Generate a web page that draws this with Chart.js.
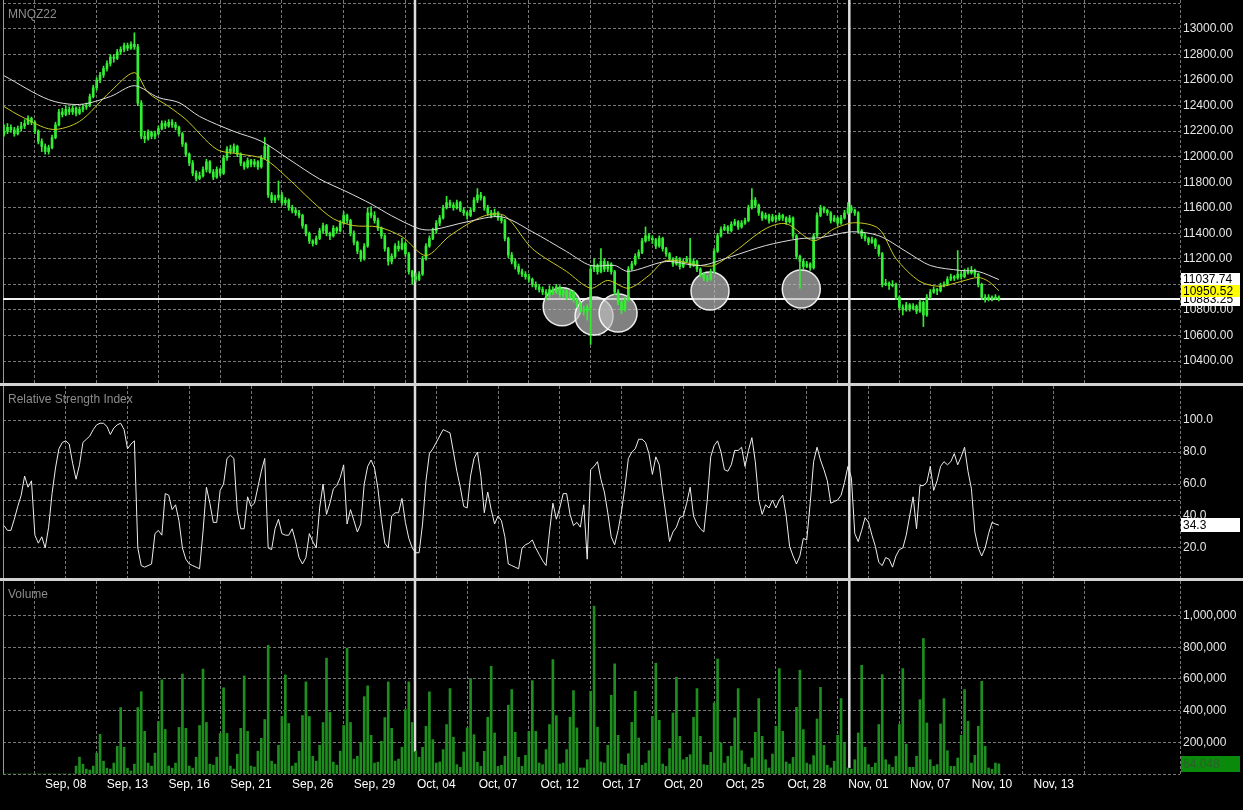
<!DOCTYPE html>
<html>
<head>
<meta charset="utf-8">
<script src="https://cdn.jsdelivr.net/npm/chart.js@4.4.0/dist/chart.umd.min.js"></script>
<style>
html, body { margin: 0; padding: 0; background: #000; width: 1243px; height: 810px; overflow: hidden; }
canvas { position: absolute; left: 0; }
.sep { position: absolute; left: 0; width: 1243px; height: 3px; background: #d2d2d2; }
</style>
</head>
<body>
<canvas id="price" width="1243" height="384" style="top:0px"></canvas>
<canvas id="rsi" width="1243" height="193" style="top:386px"></canvas>
<canvas id="vol" width="1243" height="229" style="top:581px"></canvas>
<div class="sep" style="top:383px"></div>
<div class="sep" style="top:578px"></div>
<script>
// x axis: one slot per 4h bar, a date label every 18 bars (3 sessions)
const tickBars = [18, 36, 54, 72, 90, 108, 126, 144, 162, 180, 198, 216, 234, 252, 270, 288, 306];
const dateLabels = ['Sep, 08', 'Sep, 13', 'Sep, 16', 'Sep, 21', 'Sep, 26', 'Sep, 29', 'Oct, 04', 'Oct, 07', 'Oct, 12',
  'Oct, 17', 'Oct, 20', 'Oct, 25', 'Oct, 28', 'Nov, 01', 'Nov, 07', 'Nov, 10', 'Nov, 13'];
const sessionMarks = [119.8, 246.4];

// MNQZ22 candles [open, high, low, close]
const ohlc = [
  [12180,12250,12160,12200],[12200,12260,12180,12230],[12230,12250,12190,12210],[12210,12230,12160,12180],[12180,12240,12170,12220],
  [12220,12270,12200,12240],[12240,12290,12220,12260],[12260,12320,12250,12300],[12300,12310,12250,12270],[12270,12280,12180,12200],
  [12200,12210,12100,12120],[12120,12140,12040,12080],[12080,12100,12020,12040],[12040,12090,12020,12070],[12070,12170,12060,12150],
  [12150,12270,12140,12250],[12250,12370,12240,12350],[12350,12380,12310,12330],[12330,12400,12320,12370],[12370,12390,12330,12350],
  [12350,12400,12330,12380],[12380,12390,12320,12340],[12340,12390,12330,12370],[12370,12410,12350,12390],[12390,12420,12370,12400],
  [12400,12490,12390,12470],[12470,12560,12460,12540],[12540,12620,12520,12600],[12600,12660,12580,12640],[12640,12710,12620,12690],
  [12690,12750,12670,12730],[12730,12800,12710,12780],[12780,12800,12740,12770],[12770,12840,12760,12820],[12820,12860,12800,12840],
  [12840,12890,12820,12870],[12870,12890,12830,12850],[12850,12900,12840,12880],[12880,12970,12840,12860],[12860,12880,12400,12420],
  [12420,12440,12140,12160],[12160,12200,12110,12140],[12140,12210,12130,12190],[12190,12200,12140,12160],[12160,12200,12140,12180],
  [12180,12240,12170,12220],[12220,12280,12210,12260],[12260,12280,12220,12240],[12240,12290,12230,12270],[12270,12290,12230,12250],
  [12250,12270,12210,12230],[12230,12240,12160,12180],[12180,12190,12080,12100],[12100,12110,12000,12020],[12020,12030,11930,11950],
  [11950,11970,11850,11870],[11870,11890,11810,11830],[11830,11880,11820,11850],[11850,11920,11840,11900],[11900,11980,11880,11960],
  [11960,11970,11870,11880],[11880,11900,11820,11840],[11840,11920,11830,11900],[11900,11910,11850,11870],[11870,12010,11860,11990],
  [11990,12080,11970,12060],[12060,12090,12020,12040],[12040,12100,12030,12080],[12080,12090,12000,12020],[12020,12030,11930,11950],
  [11950,11960,11900,11920],[11920,11990,11910,11970],[11970,11980,11920,11940],[11940,11980,11920,11960],[11960,11970,11900,11920],
  [11920,12010,11910,11990],[11990,12150,11980,12080],[12080,12090,11680,11700],[11700,11720,11640,11660],[11660,11700,11640,11680],
  [11680,11810,11660,11700],[11700,11720,11620,11640],[11640,11680,11620,11660],[11660,11670,11580,11600],[11600,11620,11560,11580],
  [11580,11600,11540,11560],[11560,11580,11520,11540],[11540,11550,11440,11460],[11460,11470,11380,11400],[11400,11410,11320,11340],
  [11340,11350,11300,11320],[11320,11380,11310,11360],[11360,11440,11350,11420],[11420,11480,11400,11460],[11460,11470,11380,11400],
  [11400,11410,11350,11380],[11380,11460,11370,11440],[11440,11450,11400,11420],[11420,11500,11410,11480],[11480,11570,11470,11540],
  [11540,11550,11480,11500],[11500,11510,11380,11400],[11400,11420,11310,11330],[11330,11340,11240,11260],[11260,11270,11180,11200],
  [11200,11320,11190,11300],[11300,11600,11290,11560],[11560,11610,11520,11540],[11540,11570,11480,11500],[11500,11520,11420,11440],
  [11440,11450,11360,11380],[11380,11390,11260,11280],[11280,11290,11150,11180],[11180,11240,11160,11220],[11220,11320,11210,11300],
  [11300,11340,11260,11280],[11280,11360,11270,11320],[11320,11330,11220,11240],[11240,11250,11080,11100],[11100,11110,11000,11060],
  [11060,11090,11020,11040],[11040,11100,11030,11080],[11080,11220,11070,11200],[11200,11320,11190,11300],[11300,11380,11290,11360],
  [11360,11440,11350,11420],[11420,11500,11400,11480],[11480,11540,11460,11520],[11520,11620,11510,11600],[11600,11690,11590,11640],
  [11640,11660,11600,11620],[11620,11640,11580,11600],[11600,11660,11590,11640],[11640,11650,11570,11580],[11580,11600,11540,11560],
  [11560,11570,11510,11540],[11540,11600,11530,11580],[11580,11680,11570,11660],[11660,11750,11640,11700],[11700,11720,11660,11680],
  [11680,11690,11580,11600],[11600,11620,11540,11560],[11560,11580,11520,11540],[11540,11590,11530,11560],[11560,11570,11500,11520],
  [11520,11540,11480,11500],[11500,11510,11340,11360],[11360,11370,11210,11230],[11230,11250,11160,11180],[11180,11200,11120,11140],
  [11140,11160,11080,11100],[11100,11120,11060,11080],[11080,11100,11040,11060],[11060,11080,11020,11040],[11040,11050,10980,11000],
  [11000,11020,10960,10980],[10980,11000,10940,10960],[10960,10980,10920,10940],[10940,10960,10880,10920],[10920,10990,10900,10960],
  [10960,10980,10920,10940],[10940,11000,10930,10980],[10980,10990,10900,10920],[10920,10970,10900,10950],[10950,10960,10880,10900],
  [10900,10960,10890,10940],[10940,10950,10860,10880],[10880,10890,10820,10840],[10840,10860,10780,10800],[10800,10830,10760,10790],
  [10790,10840,10720,10820],[10820,11150,10530,11120],[11120,11200,11100,11150],[11150,11160,11080,11100],[11100,11280,11090,11180],
  [11180,11200,11100,11120],[11120,11180,11100,11160],[11160,11170,11080,11100],[11100,11110,10920,10940],[10940,10960,10840,10860],
  [10860,10880,10770,10800],[10800,10900,10790,10880],[10880,11140,10870,11120],[11120,11180,11110,11160],[11160,11240,11150,11220],
  [11220,11270,11200,11250],[11250,11360,11240,11340],[11340,11450,11330,11380],[11380,11400,11340,11360],[11360,11380,11320,11350],
  [11350,11360,11280,11300],[11300,11380,11290,11360],[11360,11370,11260,11280],[11280,11290,11220,11240],[11240,11250,11180,11200],
  [11200,11210,11140,11160],[11160,11220,11150,11200],[11200,11210,11120,11140],[11140,11200,11130,11180],[11180,11220,11170,11200],
  [11200,11360,11130,11150],[11150,11200,11140,11180],[11180,11190,11100,11120],[11120,11130,11060,11080],[11080,11090,11030,11050],
  [11050,11070,11020,11040],[11040,11120,11030,11100],[11100,11280,11090,11260],[11260,11400,11250,11380],[11380,11450,11370,11430],
  [11430,11470,11420,11450],[11450,11460,11400,11420],[11420,11490,11410,11470],[11470,11510,11460,11490],[11490,11500,11430,11450],
  [11450,11500,11440,11480],[11480,11520,11470,11500],[11500,11620,11490,11600],[11600,11750,11590,11660],[11660,11680,11600,11620],
  [11620,11630,11540,11560],[11560,11570,11500,11520],[11520,11560,11510,11540],[11540,11550,11480,11500],[11500,11550,11490,11530],
  [11530,11540,11490,11510],[11510,11560,11500,11540],[11540,11550,11500,11520],[11520,11530,11470,11490],[11490,11540,11480,11520],
  [11520,11530,11360,11380],[11380,11390,11200,11220],[11220,11230,10970,11180],[11180,11200,11120,11140],[11140,11180,11130,11160],
  [11160,11170,11110,11130],[11130,11400,11120,11380],[11380,11560,11370,11540],[11540,11620,11530,11600],[11600,11610,11560,11580],
  [11580,11590,11540,11560],[11560,11570,11480,11500],[11500,11540,11490,11520],[11520,11530,11460,11480],[11480,11540,11470,11520],
  [11520,11580,11510,11560],[11560,11640,11550,11600],[11600,11620,11560,11580],[11580,11590,11540,11560],[11560,11570,11400,11420],
  [11420,11430,11360,11380],[11380,11400,11340,11360],[11360,11370,11310,11330],[11330,11370,11320,11350],[11350,11360,11280,11300],
  [11300,11310,11220,11240],[11240,11250,10980,11000],[11000,11040,10990,11010],[11010,11020,10960,10990],[10990,11030,10980,11000],
  [11000,11010,10880,10900],[10900,10910,10800,10820],[10820,10840,10760,10800],[10800,10860,10790,10840],[10840,10850,10790,10810],
  [10810,10850,10800,10830],[10830,10840,10770,10790],[10790,10880,10780,10860],[10860,10870,10670,10760],[10760,10920,10750,10900],
  [10900,10960,10890,10940],[10940,10980,10930,10960],[10960,10970,10920,10950],[10950,11010,10940,10990],[10990,11020,10980,11000],
  [11000,11060,10990,11040],[11040,11080,11030,11060],[11060,11070,11030,11050],[11050,11265,11040,11080],[11080,11100,11040,11060],
  [11060,11120,11050,11100],[11100,11130,11080,11090],[11090,11140,11080,11110],[11110,11120,11060,11080],[11080,11090,10980,11000],
  [11000,11010,10880,10900],[10900,10920,10860,10880],[10880,10920,10870,10900],[10900,10910,10870,10890],[10890,10920,10880,10900],
  [10900,10910,10870,10883.25]
];

// moving averages read at selected bars
const slowMaBars = [0, 13, 22, 31, 38, 45, 51, 57, 67, 75, 83, 92, 100, 107, 113, 121, 125, 135, 145, 154, 164, 171, 178, 182,
  193, 203, 212, 222, 232, 238, 247, 255, 263, 270, 279, 284, 290];
const slowMa = [12634, 12447, 12409, 12471, 12556, 12463, 12424, 12315, 12198, 12121, 11981, 11825, 11724, 11630, 11537, 11436,
  11428, 11490, 11529, 11412, 11257, 11148, 11148, 11101, 11179, 11148, 11218, 11304, 11358, 11366, 11412, 11381, 11257, 11148,
  11109, 11101, 11037.74];
const fastMaBars = [0, 5, 14, 22, 31, 38, 42, 48, 53, 62, 69, 76, 83, 90, 96, 102, 109, 116, 123, 130, 140, 146, 154, 164, 171,
  176, 182, 188, 193, 203, 207, 213, 222, 228, 236, 242, 248, 255, 260, 267, 273, 279, 284, 287, 290];
const fastMa = [12393, 12315, 12214, 12276, 12510, 12658, 12502, 12393, 12292, 12058, 12020, 11980, 11825, 11646, 11514, 11460,
  11450, 11374, 11226, 11382, 11537, 11537, 11280, 11101, 10970, 11031, 10970, 11070, 11187, 11148, 11148, 11257, 11436, 11475,
  11342, 11436, 11483, 11436, 11203, 11023, 10985, 11023, 11054, 11023, 10950.52];

// marked lows
const circleBars = [162.7, 172, 179, 205.8, 232.4];
const circlePrices = [10825, 10752, 10776, 10948, 10964];

const rsi = [
  34, 31, 31, 38, 46, 53, 65, 58, 62, 28, 23, 27, 20, 33, 54, 70, 82, 86, 87, 85,
  73, 63, 72, 86, 88, 90, 94, 97, 98, 98, 96, 91, 95, 97, 98, 94, 82, 85, 87, 20,
  9, 8, 9, 10, 29, 31, 28, 54, 53, 44, 47, 37, 20, 13, 10, 9, 8, 7, 30, 58,
  48, 36, 36, 56, 60, 76, 78, 76, 43, 32, 32, 52, 46, 48, 58, 68, 76, 20, 19, 32,
  38, 29, 28, 28, 32, 24, 14, 10, 14, 29, 24, 20, 45, 60, 41, 48, 57, 59, 64, 72,
  35, 44, 37, 30, 35, 60, 71, 75, 70, 57, 38, 23, 20, 40, 42, 42, 51, 36, 26, 20,
  17, 17, 35, 62, 79, 82, 86, 90, 94, 93, 92, 80, 68, 58, 46, 45, 65, 76, 80, 65,
  42, 55, 44, 35, 40, 37, 27, 10, 9, 8, 7, 20, 22, 23, 25, 20, 16, 12, 9, 30,
  48, 38, 45, 54, 54, 41, 34, 36, 33, 47, 13, 69, 71, 74, 63, 55, 42, 27, 22, 31,
  43, 58, 76, 80, 82, 88, 88, 86, 79, 66, 77, 72, 55, 40, 24, 30, 33, 39, 40, 48,
  58, 40, 35, 32, 30, 50, 77, 84, 87, 80, 69, 68, 72, 81, 81, 83, 71, 81, 89, 74,
  50, 41, 47, 45, 50, 45, 50, 53, 40, 21, 15, 10, 15, 26, 25, 48, 74, 83, 75, 69,
  62, 48, 49, 50, 53, 61, 71, 64, 29, 24, 31, 39, 36, 28, 21, 11, 9, 14, 13, 8,
  15, 19, 20, 28, 40, 52, 32, 59, 59, 61, 71, 56, 62, 71, 74, 72, 74, 79, 72, 77,
  83, 68, 57, 30, 20, 15, 20, 29, 36, 35, 34.3
];

// volume in thousands of contracts
const volumeK = [
  0, 0, 0, 0, 0, 0, 0, 0, 0, 0, 0, 0, 0, 0, 0, 0, 0, 0, 0, 0, 0,
  50, 106, 62, 31, 25, 50, 131, 250, 81, 37, 31, 69, 175, 419, 169, 37, 19, 62, 419, 519,
  269, 69, 50, 131, 331, 594, 281, 50, 37, 69, 294, 631, 288, 50, 37, 106, 306, 662, 325, 62,
  56, 106, 256, 544, 256, 50, 31, 125, 288, 619, 269, 50, 44, 144, 225, 344, 812, 81, 62, 181,
  363, 625, 319, 50, 69, 144, 369, 581, 363, 112, 81, 181, 325, 731, 388, 75, 56, 144, 306, 794,
  325, 94, 112, 200, 488, 556, 244, 69, 75, 206, 356, 581, 288, 81, 94, 169, 406, 581, 325, 144, 106,
  168, 301, 518, 217, 69, 76, 154, 312, 539, 232, 59, 42, 139, 291, 602, 248, 74, 48, 143, 358,
  680, 259, 48, 55, 112, 434, 533, 263, 105, 48, 118, 269, 589, 269, 69, 59, 154, 312, 722, 368,
  63, 69, 154, 358, 526, 291, 38, 38, 90, 522, 1059, 295, 76, 69, 181, 497, 695, 244, 63, 55,
  128, 326, 522, 227, 55, 69, 147, 364, 699, 339, 63, 48, 160, 385, 611, 238, 90, 105, 122, 358,
  539, 238, 59, 55, 137, 448, 726, 196, 69, 112, 175, 354, 539, 147, 63, 42, 101, 263, 476, 238,
  90, 38, 126, 301, 665, 269, 76, 63, 105, 421, 655, 280, 69, 59, 116, 347, 547, 181, 55, 38,
  80, 244, 476, 196, 38, 30, 90, 259, 686, 168, 59, 42, 69, 312, 627, 90, 59, 42, 112, 312,
  665, 189, 42, 42, 112, 469, 855, 322, 90, 48, 59, 316, 476, 147, 48, 48, 101, 244, 533, 333,
  69, 118, 301, 585, 175, 38, 30, 69, 64.048
];

const priceTicks = [10400, 10600, 10800, 11000, 11200, 11400, 11600, 11800, 12000, 12200, 12400, 12600, 12800, 13000, 13200];
const rsiTicks = [20, 40, 50, 60, 80, 100];
const volTicks = [0, 200000, 400000, 600000, 800000, 1000000];

const gridColor = '#777777';
const fontFamily = '"Liberation Sans", Arial, sans-serif';
Chart.defaults.font.family = fontFamily;
Chart.defaults.font.size = 12;

const xMin = -0.3, xMax = 342.8;

const deco = {
  id: 'deco',
  beforeDatasetsDraw(chart, args, opts) {
    const {ctx, chartArea: a, scales: {x, y}} = chart;
    ctx.save();
    ctx.strokeStyle = '#9a9a9a';
    ctx.lineWidth = 1;
    ctx.beginPath(); ctx.moveTo(a.left + 0.5, a.top); ctx.lineTo(a.left + 0.5, a.bottom); ctx.stroke();
    ctx.setLineDash([3, 2]);
    ctx.strokeStyle = gridColor;
    ctx.beginPath(); ctx.moveTo(a.right + 0.5, a.top); ctx.lineTo(a.right + 0.5, a.bottom); ctx.stroke();
    ctx.setLineDash([]);
    if (opts.hline !== undefined) {
      const py = Math.round(y.getPixelForValue(opts.hline));
      ctx.strokeStyle = '#f2f2f2'; ctx.lineWidth = 2;
      ctx.beginPath(); ctx.moveTo(a.left, py); ctx.lineTo(a.right, py); ctx.stroke();
    }
    ctx.strokeStyle = '#dedede'; ctx.lineWidth = 2.5;
    sessionMarks.forEach((m, k) => {
      const px = x.getPixelForValue(m);
      const cut = opts.cut ? opts.cut[k] : 0;
      ctx.beginPath(); ctx.moveTo(px, a.top); ctx.lineTo(px, a.bottom - cut); ctx.stroke();
    });
    ctx.restore();
  },
  afterDraw(chart, args, opts) {
    const {ctx, chartArea: a, scales: {y}} = chart;
    ctx.save();
    ctx.font = '12px ' + fontFamily;
    ctx.fillStyle = '#8c8c8c';
    ctx.textBaseline = 'alphabetic';
    ctx.fillText(opts.title, 8, opts.titleY);
    ctx.textBaseline = 'middle';
    (opts.boxes || []).forEach(b => {
      const py = y.getPixelForValue(b.v);
      ctx.fillStyle = b.bg;
      ctx.fillRect(a.right + 1, Math.round(py - b.h / 2), 59, b.h);
      ctx.fillStyle = b.fg;
      ctx.fillText(b.text, a.right + 3, py + 0.5);
    });
    ctx.restore();
  }
};

function options(yMin, yMax, yTicks, yLabel, showDates, deco) {
  return {
    responsive: false,
    animation: false,
    devicePixelRatio: 1,
    layout: {padding: {left: 3, right: 0, top: 0, bottom: 0}, autoPadding: false},
    plugins: {legend: {display: false}, tooltip: {enabled: false}, deco: deco},
    scales: {
      x: {
        type: 'linear', min: xMin, max: xMax, offset: false,
        afterBuildTicks: s => { s.ticks = tickBars.map(v => ({value: v})); },
        afterFit: s => { s.height = showDates ? 36 : 0; s.paddingLeft = 0; s.paddingRight = 0; },
        grid: {color: gridColor, lineWidth: 1, drawTicks: false},
        border: {display: false, dash: [3, 2]},
        ticks: {
          display: showDates, color: '#ffffff', padding: 3, maxRotation: 0, autoSkip: false,
          callback: v => dateLabels[tickBars.indexOf(v)]
        }
      },
      y: {
        position: 'right', min: yMin, max: yMax,
        afterBuildTicks: s => { s.ticks = yTicks.map(v => ({value: v})); },
        afterFit: s => { s.width = 63; s.paddingTop = 0; s.paddingBottom = 0; },
        grid: {color: gridColor, lineWidth: 1, drawTicks: false},
        border: {display: false, dash: [3, 2]},
        ticks: {color: '#e6e6e6', padding: 3, crossAlign: 'near', autoSkip: false, callback: yLabel}
      }
    }
  };
}

const green = '#33ee33';
const last = ohlc[ohlc.length - 1][3];

new Chart(document.getElementById('price'), {
  type: 'bar',
  data: {
    datasets: [
      {type: 'line', data: slowMaBars.map((b, i) => ({x: b, y: slowMa[i]})), borderColor: '#dcdcdc', borderWidth: 1,
        pointRadius: 0, tension: 0.3, order: 1},
      {type: 'line', data: fastMaBars.map((b, i) => ({x: b, y: fastMa[i]})), borderColor: '#c8c81e', borderWidth: 1,
        pointRadius: 0, tension: 0.3, order: 1},
      {data: ohlc.map((d, i) => ({x: i, y: [d[0], d[3]]})), backgroundColor: green, barThickness: 2, grouped: false, order: 2},
      {data: ohlc.map((d, i) => ({x: i, y: [d[2], d[1]]})), backgroundColor: green, barThickness: 1, grouped: false, order: 3},
      {type: 'line', data: circleBars.map((b, i) => ({x: b, y: circlePrices[i]})), showLine: false,
        pointRadius: 19, pointBackgroundColor: 'rgba(190,190,190,0.68)', pointBorderColor: 'rgba(255,255,255,0.9)',
        pointBorderWidth: 1.5, order: 4}
    ]
  },
  options: options(10220, 13227, priceTicks, v => v <= 13000 ? v.toFixed(2) : '', false, {
    title: 'MNQZ22', titleY: 18, hline: last,
    boxes: [
      {v: last, text: last.toFixed(2), bg: '#ffffff', fg: '#000000', h: 13},
      {v: slowMa[slowMa.length - 1], text: slowMa[slowMa.length - 1].toFixed(2), bg: '#ffffff', fg: '#000000', h: 13},
      {v: fastMa[fastMa.length - 1], text: fastMa[fastMa.length - 1].toFixed(2), bg: '#ffff00', fg: '#000000', h: 12}
    ]
  }),
  plugins: [deco]
});

new Chart(document.getElementById('rsi'), {
  type: 'line',
  data: {
    datasets: [
      {data: rsi.map((v, i) => ({x: i, y: v})), borderColor: '#ededed', borderWidth: 1, pointRadius: 0, tension: 0}
    ]
  },
  options: options(0.6, 121.3, rsiTicks, v => v === 50 ? '' : v.toFixed(1), false, {
    title: 'Relative Strength Index', titleY: 17,
    boxes: [{v: rsi[rsi.length - 1], text: rsi[rsi.length - 1].toFixed(1), bg: '#ffffff', fg: '#000000', h: 14}]
  }),
  plugins: [deco]
});

const lastVol = Math.round(volumeK[volumeK.length - 1] * 1000);
new Chart(document.getElementById('vol'), {
  type: 'bar',
  data: {
    datasets: [
      {data: volumeK.map((v, i) => ({x: i, y: v * 1000})), backgroundColor: '#1e8e1e', barThickness: 2, grouped: false}
    ]
  },
  options: options(0, 1217700, volTicks, v => v === 0 ? '' : v.toLocaleString('en-US'), true, {
    title: 'Volume', titleY: 17, cut: [22, 6],
    boxes: [{v: lastVol, text: lastVol.toLocaleString('en-US'), bg: '#0a8a0a', fg: '#2d5f2d', h: 16}]
  }),
  plugins: [deco]
});
</script>
</body>
</html>
